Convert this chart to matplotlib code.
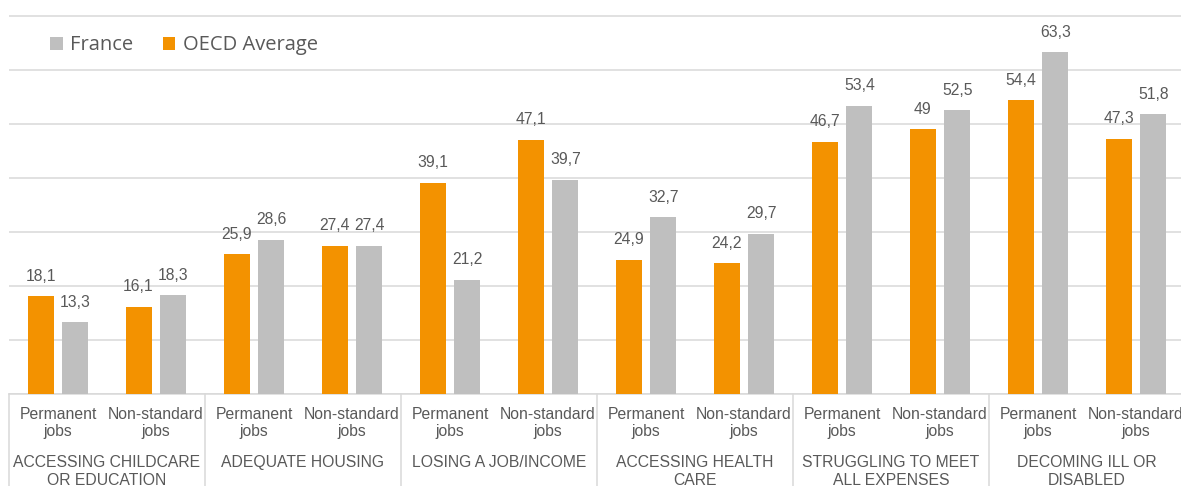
import matplotlib
matplotlib.use("Agg")
import matplotlib.pyplot as plt
from matplotlib.lines import Line2D
from matplotlib.patches import Patch

groups = ["ACCESSING CHILDCARE\nOR EDUCATION", "ADEQUATE HOUSING", "LOSING A JOB/INCOME",
          "ACCESSING HEALTH\nCARE", "STRUGGLING TO MEET\nALL EXPENSES", "DECOMING ILL OR\nDISABLED"]
subcats = ["Permanent\njobs", "Non-standard\njobs"]
oecd = [18.1, 16.1, 25.9, 27.4, 39.1, 47.1, 24.9, 24.2, 46.7, 49, 54.4, 47.3]
france = [13.3, 18.3, 28.6, 27.4, 21.2, 39.7, 32.7, 29.7, 53.4, 52.5, 63.3, 51.8]
series_names = ["France", "OECD Average"]

ORANGE = "#F39200"
GRAY = "#BFBFBF"
TXT = "#595959"
LINE = "#D9D9D9"

W, H = 1181, 486
fig = plt.figure(figsize=(W / 100, H / 100), dpi=100)
ymax = 71
axh = ymax * 5.4
ax = fig.add_axes([9 / W, (H - 394) / H, 1176 / W, axh / H])

n = len(oecd)
xs = list(range(n))
bw = 0.265
off = 0.178
b1 = ax.bar([x - off for x in xs], oecd, width=bw, color=ORANGE, zorder=3)
b2 = ax.bar([x + off for x in xs], france, width=bw, color=GRAY, zorder=3)

def fmt(v):
    return f"{v:g}".replace(".", ",")

for bars, vals in ((b1, oecd), (b2, france)):
    for r, v in zip(bars, vals):
        ax.annotate(fmt(v), xy=(r.get_x() + r.get_width() / 2, v), xytext=(0, 14.5),
                    textcoords="offset points", ha="center", va="center",
                    fontsize=11.3, color=TXT, family="Liberation Sans")

ax.set_xlim(-0.5, n - 0.5)
ax.set_ylim(0, ymax)
ax.set_yticks(range(0, 71, 10))
ax.yaxis.grid(True, color=LINE, linewidth=1.1, zorder=0)
ax.tick_params(left=False, labelleft=False, bottom=False, labelbottom=False)
for s in ("left", "right", "top"):
    ax.spines[s].set_visible(False)
ax.spines["bottom"].set_color(LINE)
ax.spines["bottom"].set_linewidth(1.1)

tr = ax.get_xaxis_transform()
for i, x in enumerate(xs):
    ax.annotate(subcats[i % 2], xy=(x, 0), xycoords=tr, xytext=(0, -21),
                textcoords="offset points", ha="center", va="center",
                fontsize=11.3, color=TXT, family="Liberation Sans",
                linespacing=1.22, annotation_clip=False)

for g, name in enumerate(groups):
    cx = 2 * g + 0.5
    lines = name.split("\n")
    for k, ln in enumerate(lines):
        ax.annotate(ln, xy=(cx, 0), xycoords=tr, xytext=(0, -49 - 13 * k),
                    textcoords="offset points", ha="center", va="center",
                    fontsize=11.3, color=TXT, family="Liberation Sans",
                    annotation_clip=False)

for g in range(len(groups) + 1):
    xb = 2 * g - 0.5
    ax.add_line(Line2D([xb, xb], [0, -0.4], transform=tr, color=LINE,
                       linewidth=1.1, clip_on=False))

handles = [Patch(facecolor=GRAY, edgecolor="none"), Patch(facecolor=ORANGE, edgecolor="none")]
leg = ax.legend(handles, series_names, loc="upper left",
                bbox_to_anchor=(23 / 1176, 1.0 - 6.5 / axh),
                ncol=2, frameon=False, handlelength=0.62, handleheight=0.62,
                handletextpad=0.35, columnspacing=1.5,
                prop={"family": "Open Sans", "size": 14.5})
for t in leg.get_texts():
    t.set_color(TXT)

fig.savefig("out.png", dpi=100)
